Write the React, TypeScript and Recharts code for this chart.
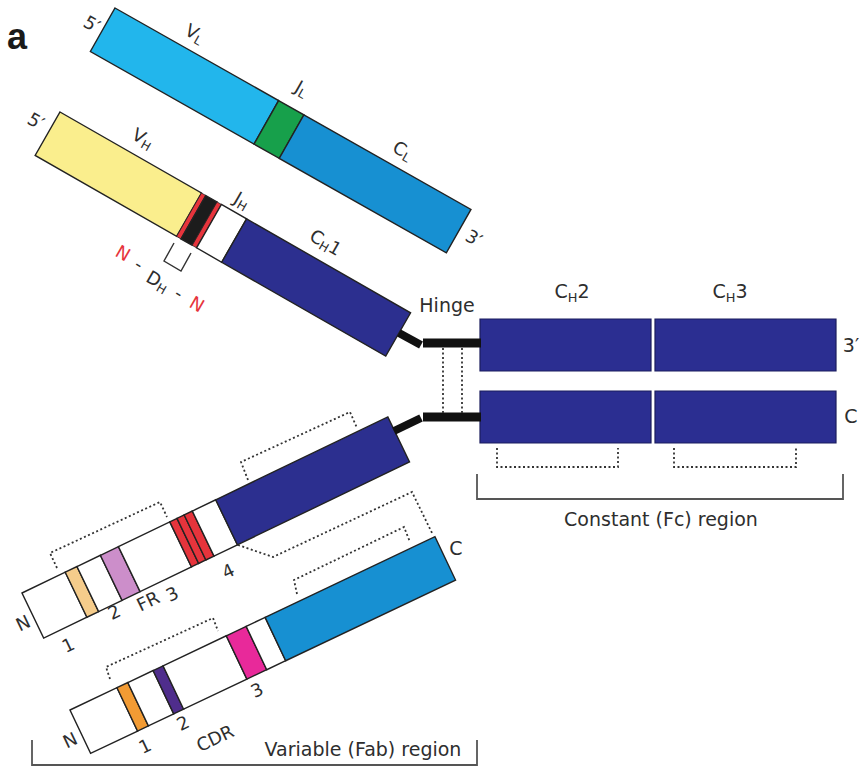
import React from "react";
import { ScatterChart, Scatter, XAxis, YAxis } from "recharts";

const WIDTH = 859;
const HEIGHT = 767;

type Seg = [number, number, string];
type P = [number, number];

// chain strips: top-left corner, tilt (deg), thickness
const strips = [
  { id: "lightTop", x: 115, y: 8, angle: 29.5, thick: 50 },
  { id: "heavyTop", x: 60, y: 112, angle: 29.8, thick: 50 },
  { id: "heavyBottom", x: 22, y: 593, angle: -25.7, thick: 50 },
  { id: "lightBottom", x: 70, y: 710, angle: -25.4, thick: 48 },
];

// domains along each strip: [from, to, region]
const lightTopSegments: Seg[] = [
  [0, 188, "VL"],
  [188, 217, "JL"],
  [217, 409, "CL"],
];
const heavyTopSegments: Seg[] = [
  [0, 163, "VH"],
  [163, 168, "N"],
  [168, 181, "DH"],
  [181, 186, "N"],
  [186, 215, "JH"],
  [215, 404, "CH"],
];
const heavyBottomSegments: Seg[] = [
  [0, 48, "FR"],
  [48, 61, "CDR1h"],
  [61, 87, "FR"],
  [87, 107, "CDR2h"],
  [107, 164, "FR"],
  [164, 172, "CDR3h"],
  [172, 180, "CDR3h"],
  [180, 189, "CDR3h"],
  [189, 215, "FR"],
  [215, 406, "CH"],
];
const lightBottomSegments: Seg[] = [
  [0, 52, "FR"],
  [52, 64, "CDR1l"],
  [64, 92, "FR"],
  [92, 103, "CDR2l"],
  [103, 173, "FR"],
  [173, 195, "CDR3l"],
  [195, 216, "FR"],
  [216, 404, "CL"],
];

// Fc domains: [x1, y1, x2, y2]
const fcBlocks: [number, number, number, number][] = [
  [480, 319, 651, 371],
  [655, 319, 836, 371],
  [480, 391, 651, 443],
  [655, 391, 836, 443],
];

// hinge
const hingeBars: { pts: P[]; thick: number }[] = [
  { pts: [[399, 333], [421, 345]], thick: 8 },
  { pts: [[423, 343], [481, 343]], thick: 9 },
  { pts: [[394, 431], [421, 418]], thick: 8 },
  { pts: [[423, 417], [481, 417]], thick: 9 },
];

// disulfide bonds
const disulfides: P[][] = [
  [[443, 348], [443, 413]],
  [[462, 348], [462, 413]],
  [[57, 568], [50, 553], [160, 502], [167, 517]],
  [[248, 480], [241, 462], [350, 412], [357, 428]],
  [[238, 545], [273, 557], [412, 492], [433, 535]],
  [[297, 594], [294, 580], [404, 527], [410, 542]],
  [[110, 679], [106, 667], [213, 618], [218, 631]],
  [[497, 448], [497, 467], [618, 467], [618, 448]],
  [[674, 448], [674, 467], [796, 467], [796, 448]],
];

const brackets: { pts: P[]; kind: string }[] = [
  { pts: [[174, 243], [164, 261], [181, 271], [191, 253]], kind: "small" },
  { pts: [[477, 474], [477, 499], [843, 499], [843, 474]], kind: "region" },
  { pts: [[32, 740], [32, 765], [477, 765], [477, 740]], kind: "region" },
];

type Label = { x: number; y: number; text: string; sub?: string; tail?: string; angle: number; kind: string };

const labels: Label[] = [
  { x: 17, y: 36, text: "a", angle: 0, kind: "panel" },
  { x: 92, y: 24, text: "5′", angle: 29.5, kind: "tag" },
  { x: 195, y: 33, text: "V", sub: "L", angle: 29.5, kind: "tag" },
  { x: 302, y: 88, text: "J", sub: "L", angle: 29.5, kind: "tag" },
  { x: 403, y: 150, text: "C", sub: "L", angle: 29.5, kind: "tag" },
  { x: 474, y: 238, text: "3′", angle: 29.5, kind: "tag" },
  { x: 36, y: 121, text: "5′", angle: 29.8, kind: "tag" },
  { x: 143, y: 138, text: "V", sub: "H", angle: 29.8, kind: "tag" },
  { x: 242, y: 200, text: "J", sub: "H", angle: 29.8, kind: "tag" },
  { x: 326, y: 242, text: "C", sub: "H", tail: "1", angle: 29.8, kind: "tag" },
  { x: 123, y: 253, text: "N", angle: 30, kind: "red" },
  { x: 139, y: 264, text: "-", angle: 30, kind: "tag" },
  { x: 158, y: 281, text: "D", sub: "H", angle: 30, kind: "tag" },
  { x: 179, y: 293, text: "-", angle: 30, kind: "tag" },
  { x: 197, y: 304, text: "N", angle: 30, kind: "red" },
  { x: 447, y: 305, text: "Hinge", angle: 0, kind: "title" },
  { x: 572, y: 291, text: "C", sub: "H", tail: "2", angle: 0, kind: "title" },
  { x: 730, y: 291, text: "C", sub: "H", tail: "3", angle: 0, kind: "title" },
  { x: 851, y: 345, text: "3′", angle: 0, kind: "title" },
  { x: 851, y: 416, text: "C", angle: 0, kind: "title" },
  { x: 661, y: 519, text: "Constant (Fc) region", angle: 0, kind: "title" },
  { x: 363, y: 749, text: "Variable (Fab) region", angle: 0, kind: "title" },
  { x: 23, y: 623, text: "N", angle: -25.7, kind: "tag" },
  { x: 68, y: 645, text: "1", angle: -25.7, kind: "tag" },
  { x: 114, y: 612, text: "2", angle: -25.7, kind: "tag" },
  { x: 148, y: 601, text: "FR", angle: -25.7, kind: "tag" },
  { x: 172, y: 594, text: "3", angle: -25.7, kind: "tag" },
  { x: 228, y: 571, text: "4", angle: -25.7, kind: "tag" },
  { x: 70, y: 740, text: "N", angle: -25.4, kind: "tag" },
  { x: 145, y: 746, text: "1", angle: -25.4, kind: "tag" },
  { x: 183, y: 723, text: "2", angle: -25.4, kind: "tag" },
  { x: 215, y: 738, text: "CDR", angle: -25.4, kind: "tag" },
  { x: 257, y: 690, text: "3", angle: -25.4, kind: "tag" },
  { x: 456, y: 548, text: "C", angle: 0, kind: "title" },
];

const REGION_FILL: Record<string, string> = {
  VL: "#22B6EC",
  JL: "#17A04B",
  CL: "#1790D2",
  VH: "#FAEE8D",
  DH: "#1C1C1C",
  N: "#E6343C",
  JH: "#FFFFFF",
  FR: "#FFFFFF",
  CH: "#2C2F8F",
  CDR1h: "#F5CC8B",
  CDR2h: "#CC8ECA",
  CDR3h: "#E6343C",
  CDR1l: "#F29B34",
  CDR2l: "#4F2D8C",
  CDR3l: "#E8299A",
};

const LABEL_STYLE: Record<string, { size: number; color: string; font: string; weight: number }> = {
  panel: { size: 36, color: "#1a1a1a", font: "Liberation Sans, Arial, sans-serif", weight: 700 },
  tag: { size: 18, color: "#2e2e2e", font: "DejaVu Sans, sans-serif", weight: 400 },
  red: { size: 18, color: "#E6343C", font: "DejaVu Sans, sans-serif", weight: 400 },
  title: { size: 19, color: "#2e2e2e", font: "DejaVu Sans, sans-serif", weight: 400 },
};

type Series = {
  key: string;
  points: { x: number; y: number }[];
  closed?: boolean;
  paint?: string;
  ink: string;
  lw: number;
  dash?: string;
};

const toPts = (pts: P[]) => pts.map(([x, y]) => ({ x, y }));

function stripSeries(id: string, segs: Seg[]): Series[] {
  const s = strips.find((d) => d.id === id)!;
  const r = (s.angle * Math.PI) / 180;
  const ux = Math.cos(r);
  const uy = Math.sin(r);
  const nx = -uy * s.thick;
  const ny = ux * s.thick;
  return segs.map(([a, b, region], i) => ({
    key: `${id}-${i}`,
    points: [
      { x: s.x + ux * a, y: s.y + uy * a },
      { x: s.x + ux * b, y: s.y + uy * b },
      { x: s.x + ux * b + nx, y: s.y + uy * b + ny },
      { x: s.x + ux * a + nx, y: s.y + uy * a + ny },
    ],
    closed: true,
    paint: REGION_FILL[region],
    ink: "#222",
    lw: region === "N" ? 0.8 : 1.4,
  }));
}

const series: Series[] = [
  ...stripSeries("lightTop", lightTopSegments),
  ...stripSeries("heavyTop", heavyTopSegments),
  ...stripSeries("heavyBottom", heavyBottomSegments),
  ...stripSeries("lightBottom", lightBottomSegments),
  ...fcBlocks.map(([x1, y1, x2, y2], i) => ({
    key: `fc-${i}`,
    points: toPts([[x1, y1], [x2, y1], [x2, y2], [x1, y2]]),
    closed: true,
    paint: "#2B2E91",
    ink: "#1B1D5E",
    lw: 1.2,
  })),
  ...hingeBars.map((h, i) => ({ key: `hinge-${i}`, points: toPts(h.pts), ink: "#111", lw: h.thick })),
  ...disulfides.map((d, i) => ({ key: `ss-${i}`, points: toPts(d), ink: "#333", lw: 1.8, dash: "2 2.5" })),
  ...brackets.map((b, i) => ({
    key: `br-${i}`,
    points: toPts(b.pts),
    ink: b.kind === "small" ? "#333" : "#555",
    lw: b.kind === "small" ? 1.4 : 1.8,
  })),
];

function Outline(props: any) {
  const pts = (props.points || []).map((p: any) => `${p.x},${p.y}`).join(" ");
  if (props.closed) {
    return <polygon points={pts} fill={props.paint} stroke={props.ink} strokeWidth={props.lw} strokeLinejoin="miter" />;
  }
  return (
    <polyline
      points={pts}
      fill="none"
      stroke={props.ink}
      strokeWidth={props.lw}
      strokeDasharray={props.dash}
      strokeLinecap="butt"
      strokeLinejoin="miter"
    />
  );
}

const noDot = () => <g />;

function renderLabel(p: any) {
  const d: Label = p.payload;
  const st = LABEL_STYLE[d.kind];
  const { cx, cy } = p;
  return (
    <text
      x={cx}
      y={cy}
      transform={d.angle ? `rotate(${d.angle} ${cx} ${cy})` : undefined}
      textAnchor="middle"
      dominantBaseline="central"
      fontFamily={st.font}
      fontWeight={st.weight}
      fontSize={st.size}
      fill={st.color}
    >
      {d.text}
      {d.sub && (
        <tspan fontSize={st.size * 0.68} dy={st.size * 0.3}>
          {d.sub}
        </tspan>
      )}
      {d.tail && <tspan dy={-st.size * 0.3}>{d.tail}</tspan>}
    </text>
  );
}

export default function App() {
  return (
    <div style={{ position: "absolute", left: 0, top: 0, width: WIDTH, height: HEIGHT, background: "#fff" }}>
      <ScatterChart width={WIDTH} height={HEIGHT} margin={{ top: 0, right: 0, bottom: 0, left: 0 }}>
        <XAxis type="number" dataKey="x" domain={[0, WIDTH]} allowDataOverflow hide />
        <YAxis type="number" dataKey="y" domain={[0, HEIGHT]} allowDataOverflow reversed hide />
        {series.map((s) => (
          <Scatter
            key={s.key}
            data={s.points}
            isAnimationActive={false}
            shape={noDot}
            lineType="joint"
            line={<Outline closed={s.closed} paint={s.paint} ink={s.ink} lw={s.lw} dash={s.dash} />}
          />
        ))}
        <Scatter data={labels} isAnimationActive={false} shape={renderLabel} />
      </ScatterChart>
    </div>
  );
}
